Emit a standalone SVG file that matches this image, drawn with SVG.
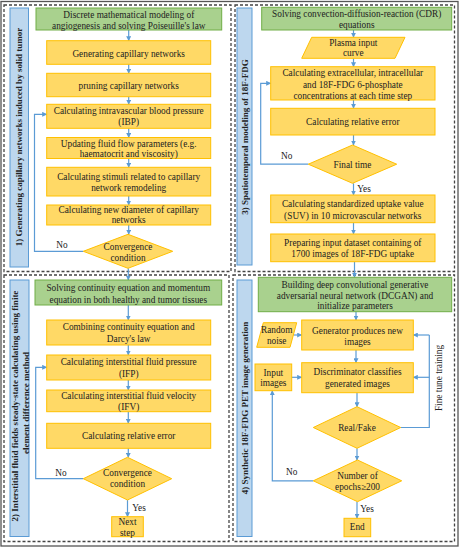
<svg xmlns="http://www.w3.org/2000/svg" width="461" height="550" viewBox="0 0 461 550">
<defs>
<style>
.t{font-family:"Liberation Serif","Times New Roman",serif;font-size:9.3px;fill:#222;text-anchor:middle}
.lb{font-family:"Liberation Serif","Times New Roman",serif;font-size:9px;font-weight:bold;fill:#222;text-anchor:middle}
.y{fill:#FFD966;stroke:#FFC000;stroke-width:1}
.g{fill:#A9D18E;stroke:#70AD47;stroke-width:1}
.b{fill:#BDD7EE;stroke:#5B9BD5;stroke-width:1}
.p{fill:none;stroke:#444;stroke-width:1.3;stroke-dasharray:3,2}
.c{fill:none;stroke:#5B9BD5;stroke-width:1.2;marker-end:url(#ah)}
.cn{fill:none;stroke:#5B9BD5;stroke-width:1.2}
</style>
<marker id="ah" viewBox="0 0 10 10" refX="9" refY="5" markerWidth="5" markerHeight="5" orient="auto" markerUnits="userSpaceOnUse">
<path d="M0,0 L10,5 L0,10 z" fill="#5B9BD5"/>
</marker>
</defs>
<rect x="0" y="0" width="461" height="550" fill="#fff"/>
<rect x="1" y="1.5" width="457" height="544.5" fill="none" stroke="#555" stroke-width="1.3"/>
<g id="panels">
<rect class="p" x="4" y="5" width="227" height="266.5"/>
<rect class="p" x="235" y="5" width="219.5" height="266.5"/>
<rect class="p" x="4" y="275" width="225" height="266.5"/>
<rect class="p" x="233" y="275" width="221.5" height="266.5"/>
</g>
<g id="labels">
<g id="label1"><rect class="b" x="10" y="8" width="18.5" height="259"/><text class="lb" transform="translate(22.2,137) rotate(-90)">1) Generating capillary networks induced by solid tumor</text></g>
<g id="label2"><rect class="b" x="10" y="280" width="19" height="256.5"/><text class="lb" transform="translate(18.2,406) rotate(-90)">2) Interstitial fluid fields steady-state calculating using finite</text><text class="lb" transform="translate(29.2,403) rotate(-90)">element difference method</text></g>
<g id="label3"><rect class="b" x="237" y="8" width="15" height="257"/><text class="lb" transform="translate(248.2,137) rotate(-90)">3) Spatiotemporal modeling of 18F-FDG</text></g>
<g id="label4"><rect class="b" x="237" y="280" width="15" height="256.5"/><text class="lb" transform="translate(248.2,408) rotate(-90)">4) Synthetic 18F-FDG PET image generation</text></g>
</g>
<g id="connectors">
<line class="c" x1="128.7" y1="30" x2="128.7" y2="40.7"/>
<line class="c" x1="128.7" y1="64.3" x2="128.7" y2="73.3"/>
<line class="c" x1="128.7" y1="96.7" x2="128.7" y2="104.3"/>
<line class="c" x1="128.7" y1="128.3" x2="128.7" y2="137.5"/>
<line class="c" x1="128.7" y1="158.5" x2="128.7" y2="167.3"/>
<line class="c" x1="128.7" y1="196" x2="128.7" y2="205"/>
<line class="c" x1="128.7" y1="225" x2="128.7" y2="234.3"/>
<polyline class="c" points="83.3,251.3 34.5,251.3 34.5,114.3 46.7,114.3"/>
<line class="c" x1="128.3" y1="268.3" x2="128.3" y2="280"/>
<line class="c" x1="128.3" y1="305" x2="128.3" y2="320"/>
<line class="c" x1="128.3" y1="345" x2="128.3" y2="355"/>
<line class="c" x1="128.3" y1="380" x2="128.3" y2="390"/>
<line class="c" x1="128.3" y1="411.7" x2="128.3" y2="423.3"/>
<line class="c" x1="128.3" y1="448.3" x2="128.3" y2="457.3"/>
<polyline class="c" points="83.3,478.7 35.7,478.7 35.7,367.3 46.7,367.3"/>
<line class="c" x1="127.5" y1="500" x2="127.5" y2="516.7"/>
<line class="c" x1="353.5" y1="30" x2="353.5" y2="37.3"/>
<line class="c" x1="353.5" y1="58.3" x2="353.5" y2="66.7"/>
<line class="c" x1="353.5" y1="100" x2="353.5" y2="108.3"/>
<line class="c" x1="353.5" y1="135" x2="353.5" y2="145"/>
<polyline class="c" points="308.3,164.2 260.7,164.2 260.7,83.3 270.7,83.3"/>
<line class="c" x1="353.5" y1="183.3" x2="353.5" y2="195"/>
<line class="c" x1="353.5" y1="222.7" x2="353.5" y2="234"/>
<line class="c" x1="354.5" y1="261.7" x2="354.5" y2="277.3"/>
<line class="c" x1="356" y1="311.7" x2="356" y2="320"/>
<line class="c" x1="293.3" y1="335" x2="301.7" y2="335"/>
<line class="c" x1="291.7" y1="377.3" x2="301.7" y2="377.3"/>
<line class="c" x1="356" y1="350" x2="356" y2="362.7"/>
<line class="c" x1="357" y1="392.7" x2="357" y2="406.7"/>
<polyline class="cn" points="400.7,427.5 429.3,427.5 429.3,335"/>
<line class="c" x1="429.3" y1="335" x2="413.3" y2="335"/>
<line class="c" x1="429.3" y1="377.3" x2="413.3" y2="377.3"/>
<line class="c" x1="357" y1="448.3" x2="357" y2="460"/>
<polyline class="c" points="313.3,480.8 272.3,480.8 272.3,390.7"/>
<line class="c" x1="357" y1="501.7" x2="357" y2="518.3"/>
</g>
<g id="n1a"><rect class="g" x="36" y="8" width="185.7" height="22"/><text class="t" x="128.8" y="18">Discrete mathematical modeling of</text><text class="t" x="128.8" y="28.7">angiogenesis and solving Poiseuille's law</text></g>
<g id="n1b"><rect class="y" x="46.7" y="40.7" width="164" height="23.6"/><text class="t" x="128.7" y="56.5">Generating capillary networks</text></g>
<g id="n1c"><rect class="y" x="46.7" y="73.3" width="164" height="23.4"/><text class="t" x="128.7" y="88.8">pruning capillary networks</text></g>
<g id="n1d"><rect class="y" x="46.7" y="104.3" width="164" height="24"/><text class="t" x="128.7" y="113.9">Calculating intravascular blood pressure</text><text class="t" x="128.7" y="125.3">(IBP)</text></g>
<g id="n1e"><rect class="y" x="46.7" y="137.5" width="164" height="21"/><text class="t" x="128.7" y="146.8">Updating fluid flow parameters (e.g.</text><text class="t" x="128.7" y="157.2">haematocrit and viscosity)</text></g>
<g id="n1f"><rect class="y" x="46.7" y="167.3" width="164" height="28.7"/><text class="t" x="128.7" y="179.7">Calculating stimuli related to capillary</text><text class="t" x="128.7" y="191.3">network remodeling</text></g>
<g id="n1g"><rect class="y" x="46.7" y="205" width="164" height="20"/><text class="t" x="128.7" y="213">Calculating new diameter of capillary</text><text class="t" x="128.7" y="223">networks</text></g>
<g id="n1h"><polygon class="y" points="128,234.3 172.7,251.3 128,268.3 83.3,251.3"/><text class="t" x="128" y="250.3">Convergence</text><text class="t" x="128" y="260.7">condition</text><text class="t" x="62" y="247.5">No</text></g>
<g id="n2a"><rect class="g" x="35" y="280" width="186.7" height="25"/><text class="t" x="128.3" y="291.3">Solving continuity equation and momentum</text><text class="t" x="128.3" y="303">equation in both healthy and tumor tissues</text></g>
<g id="n2b"><rect class="y" x="46.7" y="320" width="164" height="25"/><text class="t" x="128.7" y="330.3">Combining continuity equation and</text><text class="t" x="128.7" y="342">Darcy's law</text></g>
<g id="n2c"><rect class="y" x="46.7" y="355" width="164" height="25"/><text class="t" x="128.7" y="365.3">Calculating interstitial fluid pressure</text><text class="t" x="128.7" y="377">(IFP)</text></g>
<g id="n2d"><rect class="y" x="46.7" y="390" width="164" height="21.7"/><text class="t" x="128.7" y="398.7">Calculating interstitial fluid velocity</text><text class="t" x="128.7" y="409.7">(IFV)</text></g>
<g id="n2e"><rect class="y" x="46.7" y="423.3" width="164" height="25"/><text class="t" x="128.7" y="439">Calculating relative error</text></g>
<g id="n2f"><polygon class="y" points="127.5,457.3 171.7,478.7 127.5,500 83.3,478.7"/><text class="t" x="127.5" y="475.7">Convergence</text><text class="t" x="127.5" y="487.3">condition</text><text class="t" x="61" y="475.7">No</text></g>
<g id="n2g"><text class="t" x="139" y="510.7">Yes</text><rect class="y" x="111.7" y="516.7" width="31.6" height="20"/><text class="t" x="127.5" y="525.3">Next</text><text class="t" x="127.5" y="535.5">step</text></g>
<g id="n3a"><rect class="g" x="261.7" y="7.3" width="190" height="22.7"/><text class="t" x="356.7" y="17">Solving convection-diffusion-reaction (CDR)</text><text class="t" x="356.7" y="28">equations</text></g>
<g id="n3b"><polygon class="y" points="311.7,37.3 405,37.3 395,58.3 301.7,58.3"/><text class="t" x="353.3" y="45.7">Plasma input</text><text class="t" x="353.3" y="56.3">curve</text></g>
<g id="n3c"><rect class="y" x="270.7" y="66.7" width="164.3" height="33.3"/><text class="t" x="352.8" y="76.3">Calculating extracellular, intracellular</text><text class="t" x="352.8" y="88">and 18F-FDG 6-phosphate</text><text class="t" x="352.8" y="99">concentrations at each time step</text></g>
<g id="n3d"><rect class="y" x="270.7" y="108.3" width="164.3" height="26.7"/><text class="t" x="352.8" y="125.3">Calculating relative error</text></g>
<g id="n3e"><polygon class="y" points="352.5,145 396.7,164.2 352.5,183.3 308.3,164.2"/><text class="t" x="352.5" y="168">Final time</text><text class="t" x="286.7" y="159">No</text><text class="t" x="364" y="192.3">Yes</text></g>
<g id="n3f"><rect class="y" x="270.7" y="195" width="164.3" height="27.7"/><text class="t" x="352.8" y="207">Calculating standardized uptake value</text><text class="t" x="352.8" y="218.7">(SUV) in 10 microvascular networks</text></g>
<g id="n3g"><rect class="y" x="270.7" y="234" width="164.3" height="27.7"/><text class="t" x="352.8" y="245.7">Preparing input dataset containing of</text><text class="t" x="352.8" y="257">1700 images of 18F-FDG uptake</text></g>
<g id="n4a"><rect class="g" x="258.3" y="277.3" width="193.4" height="34.4"/><text class="t" x="355" y="288">Building deep convolutional generative</text><text class="t" x="355" y="299">adversarial neural network (DCGAN) and</text><text class="t" x="355" y="309">initialize parameters</text></g>
<g id="n4b"><polygon class="y" points="263.3,322.7 296.7,322.7 290,347.3 256.7,347.3"/><text class="t" x="276.7" y="333">Random</text><text class="t" x="276.7" y="343.7">noise</text></g>
<g id="n4c"><rect class="y" x="301.7" y="320" width="111.6" height="30"/><text class="t" x="357.5" y="334">Generator produces new</text><text class="t" x="357.5" y="344.7">images</text></g>
<g id="n4d"><rect class="y" x="255" y="364" width="36.7" height="26.7"/><text class="t" x="273.3" y="376.3">Input</text><text class="t" x="273.3" y="386.3">images</text></g>
<g id="n4e"><rect class="y" x="301.7" y="362.7" width="111.6" height="30"/><text class="t" x="357.5" y="375.3">Discriminator classifies</text><text class="t" x="357.5" y="387.3">generated images</text></g>
<g id="n4f"><text class="t" transform="translate(441.5,378) rotate(-90)">Fine tune training</text></g>
<g id="n4g"><polygon class="y" points="357,406.7 400.7,427.5 357,448.3 313.3,427.5"/><text class="t" x="357" y="430.5">Real/Fake</text></g>
<g id="n4h"><polygon class="y" points="357.5,460 401.7,480.8 357.5,501.7 313.3,480.8"/><text class="t" x="357.5" y="479">Number of</text><text class="t" x="357.5" y="490.3">epochs≥200</text><text class="t" x="291.7" y="474.7">No</text><text class="t" x="367" y="512.3">Yes</text></g>
<g id="n4i"><rect class="y" x="344" y="518.3" width="26.7" height="18.4"/><text class="t" x="357.3" y="530.3">End</text></g>
</svg>
